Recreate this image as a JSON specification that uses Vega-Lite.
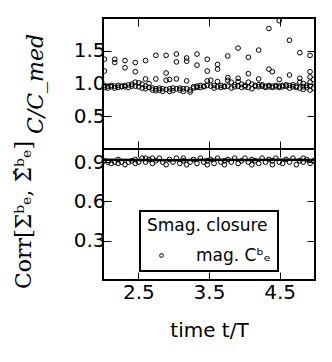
{
  "$schema": "https://vega.github.io/schema/vega-lite/v6.json",
  "padding": {"left": 11, "top": 16, "right": 5, "bottom": 5},
  "background": "white",
  "bounds": "flush",
  "config": {
    "view": {"stroke": "black", "strokeWidth": 2},
    "axis": {"grid": false, "domain": false, "tickColor": "black", "tickSize": -8, "tickWidth": 1, "labelFont": "DejaVu Sans", "labelFontSize": 20, "labelColor": "black", "titleColor": "black", "labelPadding": 6},
    "legend": {"orient": "none", "legendX": 37, "legendY": 193, "strokeColor": "black", "strokeWidth": 2, "padding": 7, "titleFont": "DejaVu Sans", "titleFontSize": 17, "titleFontWeight": "normal", "titleColor": "black", "titlePadding": 12, "labelFont": "DejaVu Sans", "labelFontSize": 17, "labelColor": "black", "symbolOffset": 6, "labelOffset": 26, "symbolSize": 14, "symbolStrokeWidth": 1, "symbolStrokeColor": "black", "fillColor": "white"}
  },
  "datasets": {
    "top": [
      {"t":2.020,"c":1.37},{"t":2.020,"c":1.19},{"t":2.020,"c":0.97},{"t":2.020,"c":0.94},
      {"t":2.068,"c":0.96},{"t":2.068,"c":0.93},
      {"t":2.117,"c":0.97},{"t":2.117,"c":0.95},
      {"t":2.166,"c":1.37},{"t":2.166,"c":1.32},{"t":2.166,"c":0.96},{"t":2.166,"c":0.93},
      {"t":2.214,"c":0.97},{"t":2.214,"c":0.94},
      {"t":2.263,"c":0.96},{"t":2.263,"c":0.95},
      {"t":2.311,"c":1.35},{"t":2.311,"c":1.24},{"t":2.311,"c":0.97},{"t":2.311,"c":0.95},
      {"t":2.360,"c":0.98},{"t":2.360,"c":0.94},
      {"t":2.408,"c":0.99},{"t":2.408,"c":0.96},
      {"t":2.457,"c":1.32},{"t":2.457,"c":1.18},{"t":2.457,"c":1.02},{"t":2.457,"c":0.96},
      {"t":2.505,"c":1.01},{"t":2.505,"c":0.95},
      {"t":2.554,"c":0.99},{"t":2.554,"c":0.93},
      {"t":2.602,"c":1.35},{"t":2.602,"c":1.07},{"t":2.602,"c":0.96},{"t":2.602,"c":0.92},
      {"t":2.651,"c":1.00},{"t":2.651,"c":0.94},
      {"t":2.699,"c":0.93},{"t":2.699,"c":0.90},
      {"t":2.748,"c":1.43},{"t":2.748,"c":1.07},{"t":2.748,"c":0.92},{"t":2.748,"c":0.89},
      {"t":2.796,"c":0.93},{"t":2.796,"c":0.90},
      {"t":2.845,"c":0.92},{"t":2.845,"c":0.88},
      {"t":2.893,"c":1.43},{"t":2.893,"c":1.16},{"t":2.893,"c":1.05},{"t":2.893,"c":0.91},
      {"t":2.942,"c":1.06},{"t":2.942,"c":0.92},{"t":2.942,"c":0.88},
      {"t":2.990,"c":0.93},{"t":2.990,"c":0.89},
      {"t":3.039,"c":1.45},{"t":3.039,"c":1.33},{"t":3.039,"c":1.07},{"t":3.039,"c":0.92},
      {"t":3.087,"c":0.93},{"t":3.087,"c":0.90},
      {"t":3.136,"c":0.92},{"t":3.136,"c":0.88},
      {"t":3.184,"c":1.39},{"t":3.184,"c":1.34},{"t":3.184,"c":1.04},{"t":3.184,"c":0.92},
      {"t":3.233,"c":0.90},{"t":3.233,"c":0.87},
      {"t":3.281,"c":0.95},{"t":3.281,"c":0.93},
      {"t":3.330,"c":1.45},{"t":3.330,"c":1.28},{"t":3.330,"c":0.96},{"t":3.330,"c":0.94},
      {"t":3.378,"c":0.97},{"t":3.378,"c":0.94},
      {"t":3.427,"c":0.96},{"t":3.427,"c":0.95},
      {"t":3.475,"c":1.37},{"t":3.475,"c":1.19},{"t":3.475,"c":1.04},{"t":3.475,"c":0.97},
      {"t":3.524,"c":1.05},{"t":3.524,"c":0.96},
      {"t":3.572,"c":0.97},{"t":3.572,"c":0.93},
      {"t":3.621,"c":1.29},{"t":3.621,"c":1.22},{"t":3.621,"c":1.03},{"t":3.621,"c":0.95},
      {"t":3.669,"c":0.97},{"t":3.669,"c":0.94},
      {"t":3.718,"c":0.96},{"t":3.718,"c":0.95},
      {"t":3.766,"c":1.42},{"t":3.766,"c":1.09},{"t":3.766,"c":1.05},{"t":3.766,"c":0.96},
      {"t":3.815,"c":1.02},{"t":3.815,"c":0.93},
      {"t":3.863,"c":0.98},{"t":3.863,"c":0.95},
      {"t":3.912,"c":1.54},{"t":3.912,"c":1.08},{"t":3.912,"c":1.03},{"t":3.912,"c":0.96},
      {"t":3.960,"c":0.99},{"t":3.960,"c":0.94},
      {"t":4.009,"c":0.97},{"t":4.009,"c":0.95},
      {"t":4.057,"c":1.40},{"t":4.057,"c":1.15},{"t":4.057,"c":1.02},{"t":4.057,"c":0.94},
      {"t":4.106,"c":0.99},{"t":4.106,"c":0.92},
      {"t":4.154,"c":0.97},{"t":4.154,"c":0.96},
      {"t":4.203,"c":1.51},{"t":4.203,"c":1.07},{"t":4.203,"c":0.98},{"t":4.203,"c":0.95},
      {"t":4.251,"c":0.98},{"t":4.251,"c":0.96},
      {"t":4.300,"c":0.96},{"t":4.300,"c":0.94},
      {"t":4.348,"c":1.84},{"t":4.348,"c":1.22},{"t":4.348,"c":0.97},{"t":4.348,"c":0.95},
      {"t":4.397,"c":1.18},{"t":4.397,"c":0.96},{"t":4.397,"c":0.94},
      {"t":4.445,"c":0.97},{"t":4.445,"c":0.95},
      {"t":4.494,"c":1.96},{"t":4.494,"c":1.06},{"t":4.494,"c":0.96},{"t":4.494,"c":0.94},
      {"t":4.542,"c":0.97},{"t":4.542,"c":0.95},
      {"t":4.591,"c":0.98},{"t":4.591,"c":0.96},
      {"t":4.639,"c":1.66},{"t":4.639,"c":1.13},{"t":4.639,"c":0.97},{"t":4.639,"c":0.93},
      {"t":4.688,"c":0.98},{"t":4.688,"c":0.95},
      {"t":4.736,"c":0.96},{"t":4.736,"c":0.94},
      {"t":4.785,"c":1.47},{"t":4.785,"c":1.08},{"t":4.785,"c":1.02},{"t":4.785,"c":0.93},
      {"t":4.833,"c":1.00},{"t":4.833,"c":0.95},{"t":4.833,"c":0.91},
      {"t":4.882,"c":0.97},{"t":4.882,"c":0.94},
      {"t":4.930,"c":1.43},{"t":4.930,"c":1.18},{"t":4.930,"c":1.10},{"t":4.930,"c":1.02},{"t":4.930,"c":0.96},{"t":4.930,"c":0.90},
      {"t":4.979,"c":1.06},{"t":4.979,"c":0.93}
    ],
    "bot": [
      {"t":2.020,"r":0.91},{"t":2.068,"r":0.90},{"t":2.117,"r":0.89},{"t":2.166,"r":0.90},
      {"t":2.214,"r":0.89},{"t":2.214,"r":0.92},{"t":2.263,"r":0.90},{"t":2.311,"r":0.88},
      {"t":2.360,"r":0.90},{"t":2.408,"r":0.91},{"t":2.457,"r":0.89},{"t":2.457,"r":0.92},
      {"t":2.505,"r":0.90},{"t":2.554,"r":0.93},{"t":2.602,"r":0.90},{"t":2.602,"r":0.93},
      {"t":2.651,"r":0.92},{"t":2.699,"r":0.89},{"t":2.699,"r":0.93},{"t":2.748,"r":0.91},
      {"t":2.796,"r":0.93},{"t":2.845,"r":0.90},{"t":2.893,"r":0.88},{"t":2.942,"r":0.92},
      {"t":2.990,"r":0.90},{"t":3.039,"r":0.93},{"t":3.087,"r":0.89},{"t":3.136,"r":0.91},
      {"t":3.136,"r":0.93},{"t":3.184,"r":0.88},{"t":3.233,"r":0.90},{"t":3.281,"r":0.92},
      {"t":3.330,"r":0.89},{"t":3.378,"r":0.93},{"t":3.427,"r":0.90},{"t":3.475,"r":0.88},
      {"t":3.475,"r":0.91},{"t":3.524,"r":0.92},{"t":3.572,"r":0.89},{"t":3.621,"r":0.93},
      {"t":3.669,"r":0.90},{"t":3.718,"r":0.88},{"t":3.718,"r":0.91},{"t":3.766,"r":0.92},
      {"t":3.815,"r":0.90},{"t":3.863,"r":0.93},{"t":3.912,"r":0.89},{"t":3.960,"r":0.91},
      {"t":4.009,"r":0.93},{"t":4.057,"r":0.90},{"t":4.106,"r":0.88},{"t":4.106,"r":0.92},
      {"t":4.154,"r":0.91},{"t":4.203,"r":0.89},{"t":4.251,"r":0.93},{"t":4.300,"r":0.90},
      {"t":4.348,"r":0.92},{"t":4.397,"r":0.88},{"t":4.397,"r":0.91},{"t":4.445,"r":0.93},
      {"t":4.494,"r":0.90},{"t":4.542,"r":0.89},{"t":4.591,"r":0.92},{"t":4.639,"r":0.90},
      {"t":4.688,"r":0.93},{"t":4.736,"r":0.88},{"t":4.785,"r":0.91},{"t":4.833,"r":0.90},
      {"t":4.833,"r":0.93},{"t":4.882,"r":0.92},{"t":4.930,"r":0.89},{"t":4.979,"r":0.91}
    ],
    "line": [
      {"t":2.0,"r":0.918},{"t":2.5,"r":0.916},{"t":3.0,"r":0.915},{"t":3.5,"r":0.917},
      {"t":4.0,"r":0.916},{"t":4.5,"r":0.917},{"t":5.0,"r":0.916}
    ],
    "leg": [
      {"t":3.0,"r":0.9,"series":"mag. Cᵇₑ"}
    ]
  },
  "spacing": 0,
  "vconcat": [
    {
      "width": 212,
      "height": 131,
      "data": {"name": "top"},
      "layer": [
        {
          "mark": {"type": "point", "shape": "circle", "filled": false, "color": "black", "size": 22, "strokeWidth": 1, "opacity": 1, "clip": true},
          "encoding": {
            "x": {"field": "t", "type": "quantitative", "scale": {"domain": [2, 5], "nice": false, "zero": false}, "axis": {"orient": "bottom", "values": [2.5, 3.5, 4.5], "labels": false, "title": null}},
            "y": {"field": "c", "type": "quantitative", "scale": {"domain": [0, 2], "nice": false, "zero": false}, "axis": {"orient": "left", "values": [0.5, 1.0, 1.5], "format": ".1f", "title": "C/C_med", "titleFont": "DejaVu Serif", "titleFontStyle": "italic", "titleFontWeight": "normal", "titleFontSize": 22, "titlePadding": 26}}
          }
        },
        {
          "mark": {"type": "point", "shape": "circle", "filled": false, "color": "black", "size": 22, "opacity": 0, "clip": true},
          "encoding": {
            "x": {"field": "t", "type": "quantitative", "axis": {"orient": "top", "values": [2.5, 3.5, 4.5], "labels": false, "title": null}},
            "y": {"field": "c", "type": "quantitative", "axis": {"orient": "right", "values": [0.5, 1.0, 1.5], "labels": false, "title": null}}
          }
        }
      ],
      "resolve": {"axis": {"x": "independent", "y": "independent"}}
    },
    {
      "width": 212,
      "height": 131,
      "layer": [
        {
          "data": {"name": "line"},
          "mark": {"type": "line", "color": "black", "strokeWidth": 2.5, "clip": true},
          "encoding": {
            "x": {"field": "t", "type": "quantitative", "scale": {"domain": [2, 5], "nice": false, "zero": false}, "axis": {"orient": "bottom", "values": [2.5, 3.5, 4.5], "format": ".1f", "labelPadding": 10, "title": "time t/T", "titleFont": "DejaVu Sans", "titleFontSize": 20, "titleFontWeight": "normal", "titlePadding": 18}},
            "y": {"field": "r", "type": "quantitative", "scale": {"domain": [0, 1], "nice": false, "zero": false}, "axis": {"orient": "left", "values": [0.3, 0.6, 0.9], "format": ".1f", "title": "Corr[Σᵇₑ, Σ̂ᵇₑ]", "titleFont": "DejaVu Serif", "titleFontWeight": "normal", "titleFontSize": 22, "titlePadding": 38}}
          }
        },
        {
          "data": {"name": "bot"},
          "mark": {"type": "point", "shape": "circle", "filled": false, "color": "black", "size": 22, "strokeWidth": 1, "opacity": 1, "clip": true},
          "encoding": {
            "x": {"field": "t", "type": "quantitative", "axis": {"orient": "top", "values": [2.5, 3.5, 4.5], "labels": false, "title": null}},
            "y": {"field": "r", "type": "quantitative", "axis": {"orient": "right", "values": [0.3, 0.6, 0.9], "labels": false, "title": null}}
          }
        },
        {
          "data": {"name": "leg"},
          "mark": {"type": "point", "shape": "circle", "filled": false, "color": "black", "size": 22, "opacity": 0},
          "encoding": {
            "x": {"field": "t", "type": "quantitative", "axis": null},
            "y": {"field": "r", "type": "quantitative", "axis": null},
            "shape": {"field": "series", "type": "nominal", "scale": {"range": ["circle"]}, "legend": {"title": "Smag. closure", "symbolOpacity": 1}}
          }
        }
      ],
      "resolve": {"axis": {"x": "independent", "y": "independent"}}
    }
  ]
}
